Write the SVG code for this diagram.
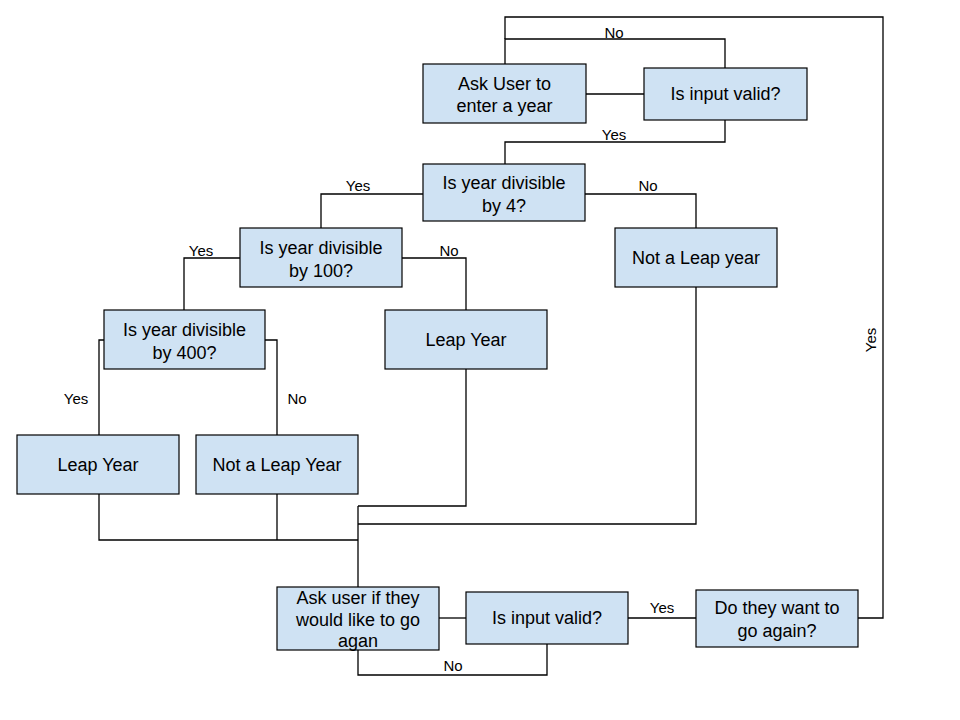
<svg xmlns="http://www.w3.org/2000/svg" width="960" height="720" viewBox="0 0 960 720">
<style>
.n rect{fill:#cfe2f3;stroke:#000;stroke-width:1.2}
.n text{font-family:"Liberation Sans",Arial,sans-serif;font-size:18px;fill:#000;text-anchor:middle}
.c path{fill:none;stroke:#000;stroke-width:1.3}
.l{font-family:"Liberation Sans",Arial,sans-serif;font-size:15px;fill:#000;text-anchor:middle}
</style>
<rect width="960" height="720" fill="#fff"/>
<g class="c" id="connectors">
<path d="M505 64V39H725V68"/>
<path d="M505 39V17H883V618H858"/>
<path d="M586 94H644"/>
<path d="M725 120V142H505V164"/>
<path d="M423 194H321V228"/>
<path d="M585 194H696V228"/>
<path d="M240 258H184V310"/>
<path d="M402 258H466V310"/>
<path d="M104 340H99V435"/>
<path d="M265 340H277V435"/>
<path d="M99 494V540H358"/>
<path d="M277 494V540"/>
<path d="M466 369V506H358"/>
<path d="M696 287V524H358"/>
<path d="M358 506V587"/>
<path d="M439 618H466"/>
<path d="M547 644V675H358V650"/>
<path d="M628 618H696"/>
<text class="l" x="614" y="38">No</text>
<text class="l" x="614" y="140">Yes</text>
<text class="l" x="358" y="191">Yes</text>
<text class="l" x="648" y="191">No</text>
<text class="l" x="201" y="256">Yes</text>
<text class="l" x="449" y="256">No</text>
<text class="l" x="76" y="404">Yes</text>
<text class="l" x="297" y="404">No</text>
<text class="l" x="453" y="671">No</text>
<text class="l" x="662" y="613">Yes</text>
<text class="l" x="0" y="0" transform="translate(876 340) rotate(-90)">Yes</text>
</g>
<g class="n" id="ask-year"><rect x="423" y="64" width="163" height="59"/><text x="504.5" y="90">Ask User to</text><text x="504.5" y="112">enter a year</text></g>
<g class="n" id="valid-top"><rect x="644" y="68" width="163" height="52"/><text x="725.5" y="100">Is input valid?</text></g>
<g class="n" id="div4"><rect x="423" y="164" width="162" height="57"/><text x="504" y="189">Is year divisible</text><text x="504" y="212">by 4?</text></g>
<g class="n" id="div100"><rect x="240" y="228" width="162" height="59"/><text x="321" y="254">Is year divisible</text><text x="321" y="277">by 100?</text></g>
<g class="n" id="not-leap-1"><rect x="615" y="228" width="162" height="59"/><text x="696" y="264">Not a Leap year</text></g>
<g class="n" id="div400"><rect x="104" y="310" width="161" height="59"/><text x="184.5" y="336">Is year divisible</text><text x="184.5" y="359">by 400?</text></g>
<g class="n" id="leap-mid"><rect x="385" y="310" width="162" height="59"/><text x="466" y="346">Leap Year</text></g>
<g class="n" id="leap-left"><rect x="17" y="435" width="162" height="59"/><text x="98" y="471">Leap Year</text></g>
<g class="n" id="not-leap-2"><rect x="196" y="435" width="162" height="59"/><text x="277" y="471">Not a Leap Year</text></g>
<g class="n" id="ask-again"><rect x="277" y="587" width="162" height="63"/><text x="358" y="604">Ask user if they</text><text x="358" y="626">would like to go</text><text x="358" y="647">agan</text></g>
<g class="n" id="valid-bottom"><rect x="466" y="592" width="162" height="52"/><text x="547" y="624">Is input valid?</text></g>
<g class="n" id="go-again"><rect x="696" y="590" width="162" height="57"/><text x="777" y="614">Do they want to</text><text x="777" y="637">go again?</text></g>
</svg>
